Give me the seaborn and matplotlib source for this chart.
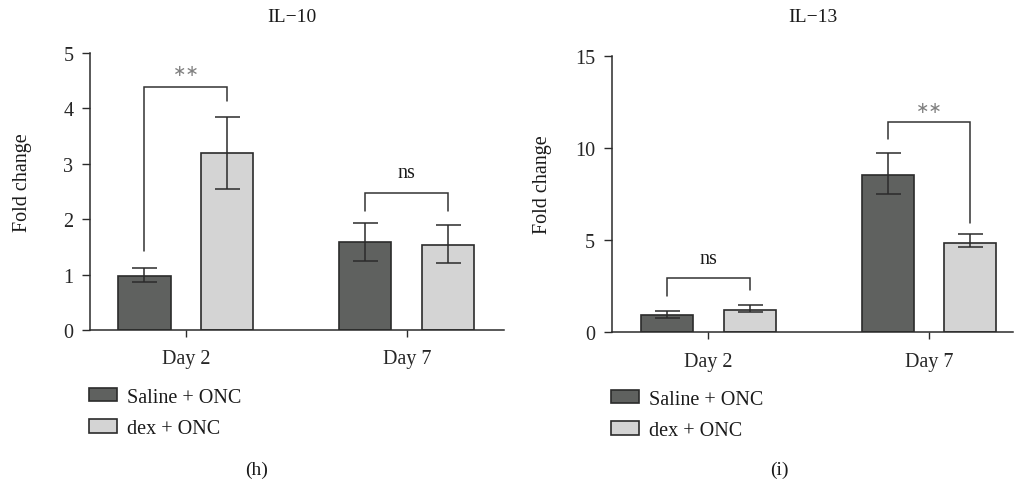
import numpy as np
import pandas as pd
import matplotlib
matplotlib.use('Agg')
import matplotlib.pyplot as plt
import seaborn as sns

# values
days = ['Day 2', 'Day 7']
groups = ['Saline + ONC', 'dex + ONC']

il10_saline = [0.98, 1.58]
il10_dex = [3.19, 1.53]
il10_saline_lo = [0.87, 1.24]
il10_saline_hi = [1.12, 1.93]
il10_dex_lo = [2.55, 1.21]
il10_dex_hi = [3.84, 1.89]

il13_saline = [0.92, 8.53]
il13_dex = [1.23, 4.86]
il13_saline_lo = [0.79, 7.48]
il13_saline_hi = [1.16, 9.71]
il13_dex_lo = [1.08, 4.61]
il13_dex_hi = [1.50, 5.31]

dark = '#5f615f'
light = '#d4d4d4'
edge = '#2b2b2b'

sns.set_style('ticks')
plt.rcParams['font.family'] = ['Liberation Serif', 'DejaVu Serif']
plt.rcParams['text.color'] = '#1a1a1a'

fig = plt.figure(figsize=(10.14, 4.81), dpi=100)
ax1 = fig.add_axes([0.0888, 0.3119, 0.408, 0.5759])
ax2 = fig.add_axes([0.6031, 0.3071, 0.396, 0.575])


def draw_panel(ax, saline, dex, s_lo, s_hi, d_lo, d_hi, ymax, yticks, xlim):
    df = pd.DataFrame({
        'day': days + days,
        'group': [groups[0]] * 2 + [groups[1]] * 2,
        'fold': saline + dex,
        'lo': s_lo + d_lo,
        'hi': s_hi + d_hi,
    })
    sns.barplot(data=df, x='day', y='fold', hue='group', hue_order=groups,
                palette=[dark, light], width=0.75, gap=0.37, errorbar=None,
                edgecolor=edge, linewidth=1.2, saturation=1, ax=ax)
    bars = [p for p in ax.patches if p.get_height() > 0][:4]
    xs = [b.get_x() + b.get_width() / 2 for b in bars]
    means = df['fold'].values
    yerr = np.vstack([means - df['lo'].values, df['hi'].values - means])
    ax.errorbar(xs, means, yerr=yerr, fmt='none', ecolor=edge,
                elinewidth=1.1, capsize=9, capthick=1.1, zorder=5)

    ax.set_ylim(0, ymax)
    ax.set_xlim(*xlim)
    ax.set_yticks(yticks)
    ax.set_xlabel('')
    ax.set_ylabel('')
    ax.tick_params(axis='y', length=6, width=1.0, pad=6, labelsize=14.5, color=edge)
    ax.tick_params(axis='x', length=5, width=1.0, pad=9, labelsize=14.5, color=edge)
    sns.despine(ax=ax)
    for s in ['left', 'bottom']:
        ax.spines[s].set_color(edge)
        ax.spines[s].set_linewidth(1.1)
    handles, labels = ax.get_legend_handles_labels()
    ax.legend_.remove()
    return xs, handles, labels


def bracket(ax, x1, x2, y1, y2, ytop, label, ytext, star):
    ax.plot([x1, x1, x2, x2], [y1, ytop, ytop, y2], color='#333333', lw=1.1,
            solid_joinstyle='miter', zorder=4)
    if star:
        ax.text((x1 + x2) / 2, ytext, label, ha='center', va='center',
                fontsize=11.5, color='#808080', family=['DejaVu Sans'])
    else:
        ax.text((x1 + x2) / 2, ytext, label, ha='center', va='center',
                fontsize=14.5)


xs1, h1, l1 = draw_panel(ax1, il10_saline, il10_dex, il10_saline_lo,
                         il10_saline_hi, il10_dex_lo, il10_dex_hi,
                         5, [0, 1, 2, 3, 4, 5], (-0.434, 1.439))
xs2, h2, l2 = draw_panel(ax2, il13_saline, il13_dex, il13_saline_lo,
                         il13_saline_hi, il13_dex_lo, il13_dex_hi,
                         15, [0, 5, 10, 15], (-0.439, 1.381))

# xs order: saline D2, saline D7, dex D2, dex D7
bracket(ax1, xs1[0], xs1[2], 1.43, 4.14, 4.39, '\u2217\u2217', 4.68, True)
bracket(ax1, xs1[1], xs1[3], 2.15, 2.15, 2.47, 'ns', 2.85, False)
bracket(ax2, xs2[0], xs2[2], 1.99, 2.30, 2.93, 'ns', 4.0, False)
bracket(ax2, xs2[1], xs2[3], 10.48, 5.93, 11.39, '\u2217\u2217', 12.2, True)

W, H = 1014, 481
fig.text(291.7 / W, 1 - 17 / H, 'IL\u221210', ha='center', va='center', fontsize=14)
fig.text(813 / W, 1 - 17 / H, 'IL\u221213', ha='center', va='center', fontsize=14)
fig.text(23 / W, 1 - 183 / H, 'Fold change', rotation=90, ha='center',
         va='center', fontsize=14.5)
fig.text(543 / W, 1 - 185 / H, 'Fold change', rotation=90, ha='center',
         va='center', fontsize=14.5)
fig.text(257 / W, 1 - 470 / H, '(h)', ha='center', va='center', fontsize=14)
fig.text(779 / W, 1 - 470 / H, '(i)', ha='center', va='center', fontsize=14)

for handles, labels, x0, y0 in [(h1, l1, 89, 389), (h2, l2, 611, 391)]:
    fig.legend(handles, labels, loc='upper left',
               bbox_to_anchor=(x0 / W, 1 - y0 / H), frameon=False,
               fontsize=14.5, handlelength=1.4, handleheight=0.62,
               handletextpad=0.5, labelspacing=0.6, borderpad=0,
               borderaxespad=0)

fig.savefig('out.png', dpi=100)
